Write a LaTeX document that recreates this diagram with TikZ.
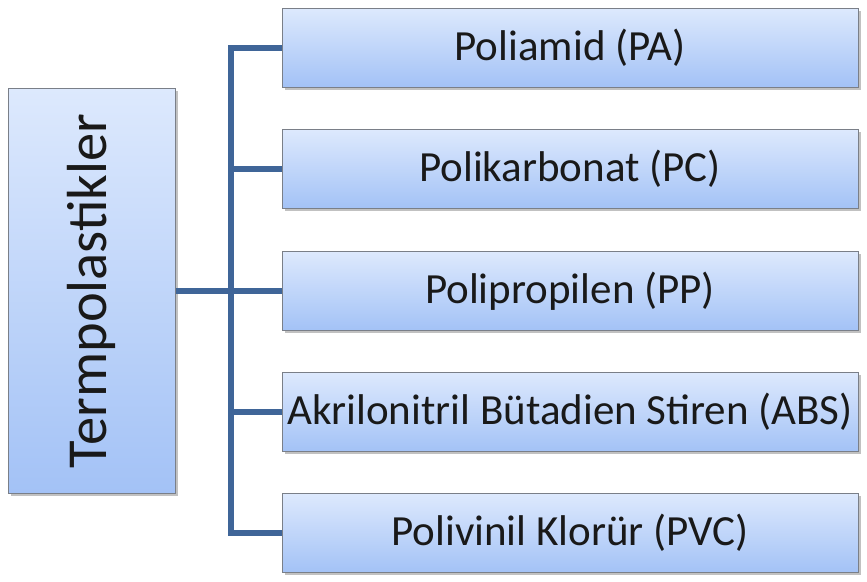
\documentclass[tikz,border=0pt]{standalone}
\usepackage{fontspec}
\setmainfont{Carlito}
\usetikzlibrary{shadows}
\definecolor{lineblue}{HTML}{3F6598}
\definecolor{boxtop}{HTML}{DDE9FD}
\definecolor{boxbot}{HTML}{A3C2F6}
\definecolor{boxedge}{HTML}{7A7F88}
\begin{document}
\begin{tikzpicture}[x=1pt,y=-1pt,
  shade box/.style={draw=boxedge, line width=1pt, top color=boxtop, bottom color=boxbot,
    drop shadow={shadow xshift=2.5pt, shadow yshift=-2.5pt, opacity=0.35, fill=black!70},
    inner sep=0pt, text=black!90},
  item/.style={shade box, minimum width=576pt, minimum height=79pt, font=\fontsize{43}{48}\selectfont},
  root/.style={shade box, minimum width=167pt, minimum height=405pt, font=\fontsize{56.5}{62}\selectfont},
  conn/.style={draw=lineblue, line width=6pt, line join=miter}]
\useasboundingbox (0,0) rectangle (867,581);
\node[root] (root) at (91.5,291) {\rotatebox{90}{Termpolastikler}};
\node[item] (b1) at (570,47.5) {Poliamid (PA)};
\node[item] (b2) at (570,169) {Polikarbonat (PC)};
\node[item] (b3) at (570,291) {Polipropilen (PP)};
\node[item] (b4) at (570,412) {Akrilonitril Bütadien Stiren (ABS)};
\node[item] (b5) at (570,533) {Polivinil Klorür (PVC)};
\coordinate (bus) at (231,291);
\draw[conn] (b1.west) -| (bus) |- (b5.west);
\draw[conn] (b2.west) -- (b2.west -| bus);
\draw[conn] (b3.west) -- (b3.west -| bus);
\draw[conn] (b4.west) -- (b4.west -| bus);
\draw[conn] (root.east) -- (bus);
\end{tikzpicture}
\end{document}
